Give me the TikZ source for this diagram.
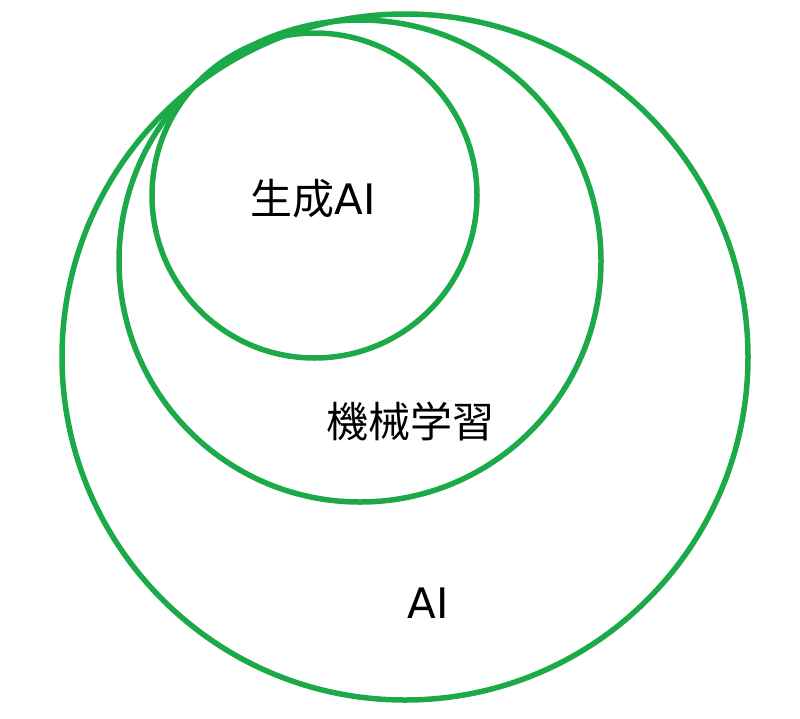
\documentclass[tikz,border=0pt]{standalone}
\usepackage{fontspec}
\newfontfamily\cjk{Noto Sans CJK JP}
\newfontfamily\lat{DejaVu Sans}
\definecolor{ringgreen}{RGB}{28,170,72}
\tikzset{
  ring/.style={circle,draw=ringgreen,line width=5.5pt,inner sep=0pt},
  lbl/.style={font=\cjk\fontsize{42}{50}\selectfont,text=black,inner sep=0pt,anchor=center}
}
\begin{document}
\begin{tikzpicture}[x=1pt,y=-1pt]
\useasboundingbox (0,0) rectangle (800,718);
\node[ring,minimum size=686pt] (ai) at (405,357) {};
\node[ring,minimum size=482pt] (ml) at (360,261) {};
\node[ring,minimum size=325pt] (gen) at (314.5,195.5) {};
\node[lbl] (tgen) at (313,199) {生成{\lat AI}};
\node[lbl] (tml) at (410,421) {機械学習};
\node[lbl] (tai) at (428,603) {{\lat AI}};
\end{tikzpicture}
\end{document}
